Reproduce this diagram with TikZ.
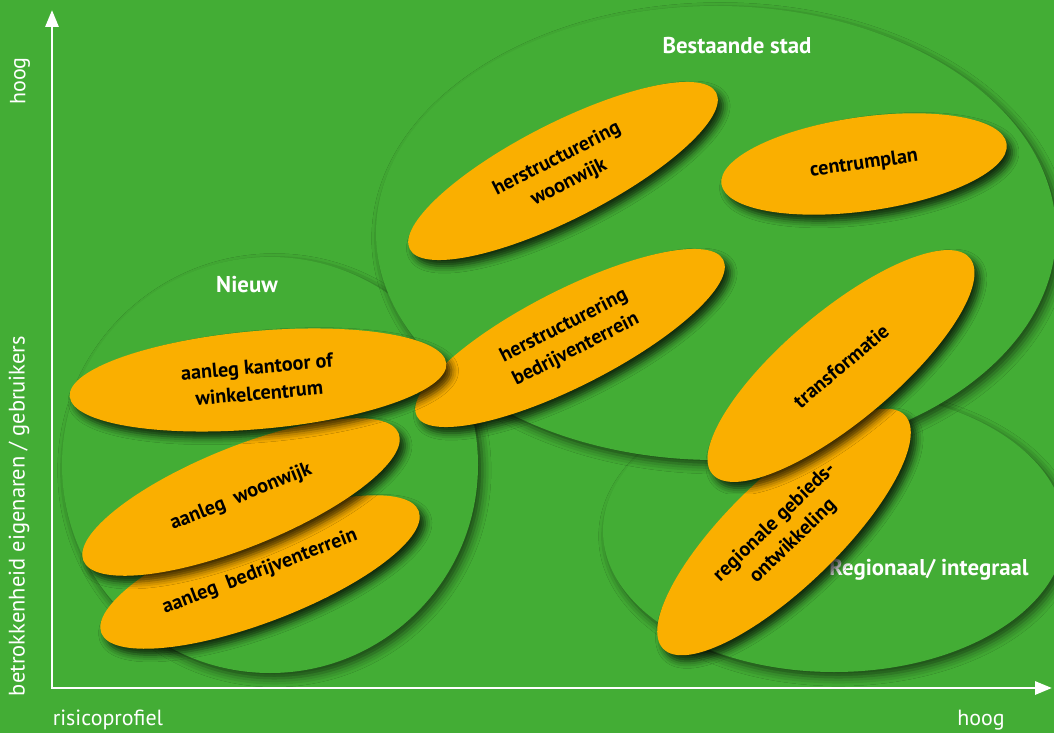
\documentclass[tikz,border=0pt]{standalone}
\usepackage{fontspec}
\setmainfont{PT Sans}
\usetikzlibrary{shapes,arrows,arrows.meta,positioning,calc,shadows,shadows.blur}
\definecolor{veldgroen}{RGB}{67,173,53}
\definecolor{oranje}{RGB}{250,175,0}
\tikzset{
  zone/.style={ellipse,fill=veldgroen,inner sep=0pt,
    blur shadow={shadow xshift=2.5pt,shadow yshift=-3pt,shadow blur radius=5pt,shadow opacity=60}},
  blob/.style={ellipse,fill=oranje,inner sep=0pt,align=center,
    font=\bfseries\fontsize{11.5pt}{15pt}\selectfont,
    blur shadow={shadow xshift=3pt,shadow yshift=-3.5pt,shadow blur radius=4pt,shadow opacity=75}},
  head/.style={text=white,font=\bfseries\fontsize{13pt}{15pt}\selectfont},
  axlabel/.style={text=white,font=\fontsize{12.5pt}{14pt}\selectfont},
  axis/.style={white,line width=1.7pt,
    {Triangle[length=0.34cm,width=0.26cm]}-{Triangle[length=0.34cm,width=0.26cm]}}
}
\begin{document}
\begin{tikzpicture}
      \useasboundingbox (0,0) rectangle (21.08,14.66);
      \fill[veldgroen] (0,0) rectangle (21.08,14.66);
      %
      \node[zone,minimum width=8.32cm,minimum height=8.32cm](nieuw) at (5.40,5.36){};
      \node[zone,minimum width=9.24cm,minimum height=5.64cm](regio) at (16.68,4.04){};
      \node[zone,minimum width=13.6cm,minimum height=9.08cm](stad) at (14.32,10.00){};
      %
      \node[head] at($(stad.north)+(0.42,-0.80)$)(stadlbl){Bestaande stad};
      \node[head] at($(nieuw.north)+(-0.46,-0.56)$)(nieuwlbl){Nieuw};
      \node[head] at($(regio.center)+(1.90,-0.78)$)(regiolbl){Regionaal/ integraal};
      %
      \node[blob,rotate=21,minimum width=6.8cm,minimum height=2cm](abedr) at (5.20,3.22){aanleg\ \ bedrijventerrein};
      \node[blob,rotate=22,minimum width=6.8cm,minimum height=2cm](awoon) at (4.82,4.72){aanleg\ \ woonwijk};
      \node[blob,rotate=27,minimum width=6.88cm,minimum height=1.92cm](hbedr) at (11.40,7.90){herstructurering\\bedrijventerrein};
      \node[blob,rotate=5,minimum width=7.56cm,minimum height=1.96cm](kantoor) at (5.16,7.06){aanleg kantoor of\\winkelcentrum};
      \node[blob,rotate=27,minimum width=6.88cm,minimum height=1.92cm](hwoon) at (11.26,11.24){herstructurering\\woonwijk};
      \node[blob,rotate=8,minimum width=5.76cm,minimum height=1.88cm](centrum) at (17.28,11.38){centrumplan};
      \node[blob,rotate=44,minimum width=6.72cm,minimum height=2.2cm](regionaal) at (15.68,4.02){regionale gebieds-\\ontwikkeling};
      \node[blob,rotate=40,minimum width=6.72cm,minimum height=2.2cm](transf) at (16.82,7.34){transformatie};
      %
      \coordinate (o) at (1.04,0.90);
      \coordinate (ytop) at (1.04,14.46);
      \coordinate (xend) at (21.04,0.90);
      \draw[axis] (ytop) -- (o) -- (xend);
      %
      \node[axlabel,rotate=90] at (0.40,13.04)(yhoog){hoog};
      \node[axlabel,rotate=90,font=\fontsize{12.8pt}{14pt}\selectfont] at (0.38,4.34)(ylbl){betrokkenheid eigenaren / gebruikers};
      \node[axlabel] at (2.16,0.26)(xlbl){risicoprofiel};
      \node[axlabel] at (19.62,0.26)(xhoog){hoog};
    \end{tikzpicture}
\end{document}
